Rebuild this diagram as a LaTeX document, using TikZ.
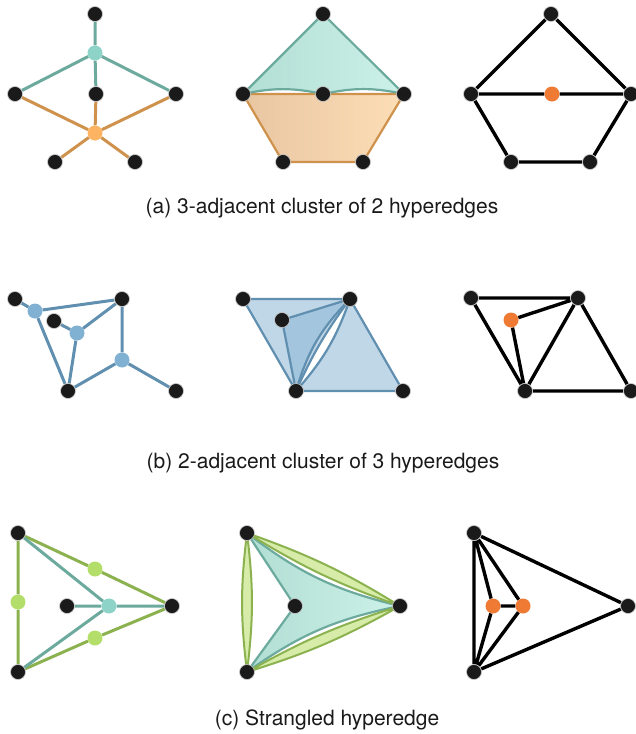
\documentclass[tikz,border=0pt]{standalone}
\usepackage{fontspec}
\setmainfont{TeX Gyre Heros}
\usetikzlibrary{backgrounds}
\definecolor{vtxBlack}{RGB}{26, 26, 26}
\definecolor{vtxOrange}{RGB}{238, 122, 52}
\definecolor{tealEdge}{RGB}{108, 170, 158}
\definecolor{tealHub}{RGB}{141, 211, 199}
\definecolor{tealShadeL}{RGB}{178, 222, 212}
\definecolor{tealShadeR}{RGB}{204, 241, 233}
\definecolor{orangeEdge}{RGB}{206, 146, 76}
\definecolor{orangeHub}{RGB}{253, 180, 98}
\definecolor{orangeShadeL}{RGB}{232, 198, 162}
\definecolor{orangeShadeR}{RGB}{252, 222, 182}
\definecolor{blueEdge}{RGB}{96, 143, 175}
\definecolor{blueHub}{RGB}{128, 177, 211}
\definecolor{blueFill}{RGB}{140, 182, 214}
\definecolor{greenEdge}{RGB}{140, 178, 80}
\definecolor{greenHub}{RGB}{179, 222, 105}
\definecolor{greenFill}{RGB}{214, 236, 168}

\tikzset{
  vtx/.style={circle, fill=vtxBlack, draw=white!80!black, line width=0.6pt, inner sep=0pt, minimum size=15pt},
  hub/.style={circle, fill=#1, inner sep=0pt, minimum size=15pt},
  edge/.style={line width=3pt, draw=#1},
  hedge/.style={line width=2.2pt, draw=#1, line join=round},
  caption/.style={font=\fontsize{21}{25}\selectfont, text=vtxBlack, anchor=base}
}

\begin{document}
\begin{tikzpicture}[x=1pt, y=-1pt]
  \useasboundingbox (0,0) rectangle (636,734);

  \node[vtx] (a1t) at (95,14) {};
  \node[hub=tealHub] (a1h) at (95,53) {};
  \node[vtx] (a1l) at (15,94) {};
  \node[vtx] (a1c) at (96,94) {};
  \node[vtx] (a1r) at (176,94) {};
  \node[hub=orangeHub] (a1o) at (95,133) {};
  \node[vtx] (a1bl) at (55,162) {};
  \node[vtx] (a1br) at (135,162) {};

  \node[vtx] (a2t) at (323,14) {};
  \node[vtx] (a2l) at (243,94) {};
  \node[vtx] (a2c) at (323,94) {};
  \node[vtx] (a2r) at (404,94) {};
  \node[vtx] (a2bl) at (283,162) {};
  \node[vtx] (a2br) at (363,162) {};

  \node[vtx] (a3t) at (551,14) {};
  \node[vtx] (a3l) at (471,94) {};
  \node[hub=vtxOrange] (a3o) at (552,94) {};
  \node[vtx] (a3r) at (631,94) {};
  \node[vtx] (a3bl) at (511,162) {};
  \node[vtx] (a3br) at (590,162) {};

  \node[vtx] (b1a) at (15,299) {};
  \node[hub=blueHub] (b1h1) at (35,311) {};
  \node[vtx] (b1c) at (54,321) {};
  \node[hub=blueHub] (b1h2) at (77,333) {};
  \node[vtx] (b1b) at (122,299) {};
  \node[hub=blueHub] (b1h3) at (122,360) {};
  \node[vtx] (b1d) at (68,391) {};
  \node[vtx] (b1e) at (176,391) {};

  \node[vtx] (b2a) at (243,299) {};
  \node[vtx] (b2b) at (350,299) {};
  \node[vtx] (b2c) at (282,320) {};
  \node[vtx] (b2d) at (296,391) {};
  \node[vtx] (b2e) at (403,391) {};

  \node[vtx] (b3a) at (471,298) {};
  \node[vtx] (b3b) at (578,298) {};
  \node[hub=vtxOrange] (b3o) at (511,320) {};
  \node[vtx] (b3d) at (525,391) {};
  \node[vtx] (b3e) at (631,391) {};

  \node[vtx] (c1t) at (18,533) {};
  \node[vtx] (c1b) at (18,672) {};
  \node[vtx] (c1r) at (172,606) {};
  \node[vtx] (c1c) at (67,606) {};
  \node[hub=tealHub] (c1h) at (109,606) {};
  \node[hub=greenHub] (c1g1) at (95,569) {};
  \node[hub=greenHub] (c1g2) at (95,638) {};
  \node[hub=greenHub] (c1g3) at (18,602) {};

  \node[vtx] (c2t) at (247,533) {};
  \node[vtx] (c2b) at (247,672) {};
  \node[vtx] (c2c) at (295,606) {};
  \node[vtx] (c2r) at (400,606) {};

  \node[vtx] (c3t) at (474,533) {};
  \node[vtx] (c3b) at (474,672) {};
  \node[hub=vtxOrange] (c3o1) at (493,606) {};
  \node[hub=vtxOrange] (c3o2) at (523,606) {};
  \node[vtx] (c3r) at (628,606) {};

  \node[caption] (capa) at (322,213) {(a) 3-adjacent cluster of 2 hyperedges};
  \node[caption] (capb) at (323,468) {(b) 2-adjacent cluster of 3 hyperedges};
  \node[caption] (capc) at (327,725) {(c) Strangled hyperedge};

  \begin{pgfonlayer}{background}
    \draw[edge=tealEdge] (a1h) -- (a1t) (a1h) -- (a1l) (a1h) -- (a1c) (a1h) -- (a1r);
    \draw[edge=orangeEdge] (a1o) -- (a1l) (a1o) -- (a1c) (a1o) -- (a1r) (a1o) -- (a1bl) (a1o) -- (a1br);

    \draw[hedge=orangeEdge, left color=orangeShadeL, right color=orangeShadeR]
      (a2l.center) -- (a2c.center) -- (a2r.center) -- (a2br.center) -- (a2bl.center) -- cycle;
    \draw[hedge=tealEdge, left color=tealShadeL, right color=tealShadeR]
      (a2t.center) -- (a2l.center) to[bend left=12] (a2c.center) to[bend left=12] (a2r.center) -- cycle;

    \draw[edge=black, line width=3.4pt] (a3t) -- (a3l) (a3t) -- (a3r) (a3l) -- (a3o) (a3o) -- (a3r)
      (a3l) -- (a3bl) (a3bl) -- (a3br) (a3br) -- (a3r);

    \draw[edge=blueEdge] (b1h1) -- (b1a) (b1h1) -- (b1b) (b1h1) -- (b1d)
      (b1h2) -- (b1c) (b1h2) -- (b1b) (b1h2) -- (b1d)
      (b1h3) -- (b1b) (b1h3) -- (b1d) (b1h3) -- (b1e);

    \draw[hedge=blueEdge, fill=blueFill, fill opacity=0.55]
      (b2a.center) -- (b2b.center) to[bend right=6] (b2d.center) -- cycle;
    \draw[hedge=blueEdge, fill=blueFill, fill opacity=0.55]
      (b2c.center) -- (b2b.center) to[bend right=14] (b2d.center) -- cycle;
    \draw[hedge=blueEdge, fill=blueFill, fill opacity=0.55]
      (b2d.center) -- (b2e.center) -- (b2b.center) to[bend left=11] (b2d.center) -- cycle;

    \draw[edge=black, line width=3.4pt] (b3a) -- (b3b) (b3a) -- (b3d) (b3o) -- (b3b) (b3o) -- (b3d)
      (b3b) -- (b3d) (b3b) -- (b3e) (b3d) -- (b3e);

    \draw[edge=greenEdge] (c1g1) -- (c1t) (c1g1) -- (c1r) (c1g2) -- (c1b) (c1g2) -- (c1r)
      (c1g3) -- (c1t) (c1g3) -- (c1b);
    \draw[edge=tealEdge] (c1h) -- (c1t) (c1h) -- (c1b) (c1h) -- (c1c) (c1h) -- (c1r);

    \draw[hedge=tealEdge, left color=tealShadeL, right color=tealShadeR]
      (c2b.center) to[bend left=12] (c2r.center) to[bend left=12] (c2t.center) -- (c2c.center) -- cycle;
    \draw[hedge=greenEdge, line width=2pt, fill=greenFill]
      (c2t.center) to[bend left=7] (c2b.center) to[bend left=7] (c2t.center);
    \draw[hedge=greenEdge, line width=2pt, fill=greenFill]
      (c2t.center) to[bend left=6] (c2r.center) to[bend left=6] (c2t.center);
    \draw[hedge=greenEdge, line width=2pt, fill=greenFill]
      (c2b.center) to[bend left=6] (c2r.center) to[bend left=6] (c2b.center);

    \draw[edge=black, line width=3.4pt] (c3t) -- (c3b) (c3t) -- (c3o1) (c3t) -- (c3o2)
      (c3b) -- (c3o1) (c3b) -- (c3o2) (c3o1) -- (c3o2) (c3t) -- (c3r) (c3b) -- (c3r);
  \end{pgfonlayer}
\end{tikzpicture}
\end{document}
